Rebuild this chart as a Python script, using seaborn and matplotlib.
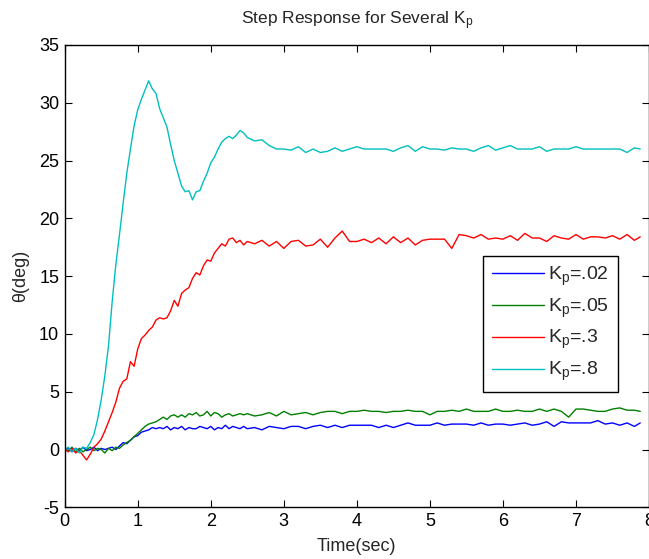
import matplotlib
matplotlib.use("Agg")
import matplotlib.pyplot as plt
import seaborn as sns
import pandas as pd

# sample times (sec)
time_s = [
    0.00, 0.05, 0.10, 0.15, 0.20, 0.25, 0.30, 0.35, 0.40, 0.45,
    0.50, 0.55, 0.60, 0.65, 0.70, 0.75, 0.80, 0.85, 0.90, 0.95,
    1.00, 1.05, 1.10, 1.15, 1.20, 1.25, 1.30, 1.35, 1.40, 1.45,
    1.50, 1.55, 1.60, 1.65, 1.70, 1.75, 1.80, 1.85, 1.90, 1.95,
    2.00, 2.05, 2.10, 2.15, 2.20, 2.25, 2.30, 2.35, 2.40, 2.45,
    2.50, 2.6, 2.7, 2.8, 2.9, 3.0, 3.1, 3.2, 3.3, 3.4,
    3.5, 3.6, 3.7, 3.8, 3.9, 4.0, 4.1, 4.2, 4.3, 4.4,
    4.5, 4.6, 4.7, 4.8, 4.9, 5.0, 5.1, 5.2, 5.3, 5.4,
    5.5, 5.6, 5.7, 5.8, 5.9, 6.0, 6.1, 6.2, 6.3, 6.4,
    6.5, 6.6, 6.7, 6.8, 6.9, 7.0, 7.1, 7.2, 7.3, 7.4,
    7.5, 7.6, 7.7, 7.8, 7.88,
]

# theta (deg) for each Kp
theta_kp02 = [
    0.0, 0.1, -0.2, 0.1, -0.1, 0.2, -0.1, 0.0, 0.2, -0.1,
    0.1, 0.0, 0.1, 0.2, 0.0, 0.3, 0.6, 0.5, 0.8, 1.1,
    1.2, 1.5, 1.6, 1.7, 1.9, 1.8, 1.9, 1.8, 2.0, 1.7,
    1.9, 1.8, 2.0, 1.7, 1.9, 1.8, 1.8, 2.0, 1.9, 1.8,
    2.0, 1.7, 1.9, 1.8, 2.1, 1.8, 2.0, 1.9, 1.8, 2.0,
    1.8, 1.9, 1.7, 2.0, 1.9, 1.8, 2.0, 2.0, 1.8, 2.0,
    2.1, 1.9, 2.1, 1.9, 2.1, 2.1, 2.1, 2.1, 1.9, 2.1,
    1.9, 2.1, 2.3, 2.1, 2.1, 2.1, 2.3, 2.1, 2.2, 2.2,
    2.2, 2.1, 2.3, 2.1, 2.2, 2.2, 2.1, 2.2, 2.3, 2.1,
    2.2, 2.4, 2.0, 2.4, 2.3, 2.3, 2.3, 2.3, 2.5, 2.2,
    2.3, 2.1, 2.3, 2.0, 2.3,
]
theta_kp05 = [
    0.0, -0.1, 0.2, -0.2, 0.1, -0.2, 0.0, 0.2, -0.1, 0.1,
    0.0, -0.3, 0.1, -0.1, 0.2, 0.1, 0.4, 0.6, 0.8, 1.1,
    1.4, 1.7, 2.0, 2.2, 2.3, 2.4, 2.6, 2.8, 2.6, 2.9,
    3.0, 2.8, 3.0, 2.8, 3.1, 3.0, 3.2, 2.9, 3.0, 3.3,
    2.9, 3.2, 3.1, 2.8, 3.0, 3.1, 2.9, 3.0, 3.1, 3.0,
    3.1, 2.9, 3.0, 3.2, 2.9, 3.3, 3.0, 3.1, 3.2, 3.0,
    3.2, 3.3, 3.3, 3.1, 3.3, 3.3, 3.4, 3.3, 3.3, 3.2,
    3.3, 3.3, 3.4, 3.3, 3.3, 3.0, 3.3, 3.3, 3.4, 3.3,
    3.5, 3.3, 3.3, 3.3, 3.5, 3.3, 3.3, 3.4, 3.3, 3.3,
    3.5, 3.3, 3.5, 3.3, 2.8, 3.5, 3.5, 3.4, 3.3, 3.3,
    3.5, 3.6, 3.4, 3.4, 3.3,
]
theta_kp3 = [
    0.0, -0.2, 0.1, -0.3, -0.1, -0.5, -0.9, -0.4, 0.2, 0.5,
    0.9, 1.6, 2.4, 3.2, 4.1, 5.3, 5.9, 6.1, 7.6, 7.2,
    8.7, 9.6, 9.9, 10.3, 10.6, 11.2, 11.4, 11.3, 11.4, 12.0,
    12.9, 12.4, 13.5, 13.8, 14.0, 14.8, 15.3, 15.1, 15.9, 16.4,
    16.3, 17.0, 17.4, 17.8, 17.6, 18.2, 18.3, 17.9, 18.1, 17.7,
    18.0, 17.8, 18.1, 17.6, 18.0, 17.4, 18.0, 18.1, 17.6, 17.7,
    18.2, 17.5, 18.3, 18.9, 18.0, 18.0, 18.2, 17.9, 18.3, 17.8,
    18.4, 17.9, 18.3, 17.7, 18.1, 18.2, 18.2, 18.2, 17.4, 18.6,
    18.5, 18.3, 18.6, 18.2, 18.3, 18.2, 18.5, 18.1, 18.7, 18.3,
    18.3, 18.0, 18.5, 18.3, 18.2, 18.6, 18.2, 18.4, 18.4, 18.3,
    18.5, 18.2, 18.6, 18.1, 18.4,
]
theta_kp8 = [
    0.0, 0.2, -0.2, 0.1, -0.3, 0.2, 0.1, 0.6, 1.3, 2.6,
    4.3, 6.4, 9.0, 12.8, 16.0, 18.6, 21.3, 23.9, 26.0, 28.0,
    29.4, 30.3, 31.1, 31.9, 31.2, 30.8, 29.5, 28.7, 27.9, 26.4,
    25.0, 23.9, 22.8, 22.3, 22.4, 21.6, 22.3, 22.4, 23.2, 23.9,
    24.8, 25.3, 26.0, 26.6, 26.9, 27.1, 26.9, 27.2, 27.6, 27.4,
    27.0, 26.7, 26.8, 26.3, 26.0, 26.0, 25.9, 26.2, 25.7, 26.0,
    25.7, 25.8, 26.1, 25.8, 26.0, 26.2, 26.0, 26.0, 26.0, 26.0,
    25.8, 26.1, 26.3, 25.8, 26.2, 26.0, 26.0, 25.9, 26.1, 26.0,
    26.0, 25.8, 26.1, 26.3, 25.9, 26.1, 26.3, 26.0, 26.0, 26.0,
    26.2, 25.8, 26.0, 26.0, 26.0, 26.2, 26.0, 26.0, 26.0, 26.0,
    26.0, 26.0, 25.7, 26.1, 26.0,
]

labels = ["K$_p$=.02", "K$_p$=.05", "K$_p$=.3", "K$_p$=.8"]
colors = ["#0000ff", "#008000", "#ff0000", "#00bfbf"]

frames = []
for lab, vals in zip(labels, [theta_kp02, theta_kp05, theta_kp3, theta_kp8]):
    frames.append(pd.DataFrame({"time": time_s, "theta": vals, "gain": lab}))
df = pd.concat(frames, ignore_index=True)

sns.set_style("ticks")
plt.rcParams["font.family"] = ["Liberation Sans", "DejaVu Sans"]
plt.rcParams["mathtext.default"] = "regular"
plt.rcParams["axes.unicode_minus"] = False

fig = plt.figure(figsize=(6.49, 5.59), dpi=100)
ax = fig.add_axes([0.0997, 0.0925, 0.9003, 0.827])

sns.lineplot(data=df, x="time", y="theta", hue="gain", palette=dict(zip(labels, colors)),
             linewidth=1.0, ax=ax, legend=False, estimator=None, sort=False)

ax.set_xlim(0, 8)
ax.set_ylim(-5, 35)
ax.set_xticks(range(0, 9))
ax.set_yticks(range(-5, 40, 5))
ax.tick_params(direction="in", length=5, width=0.8, top=True, right=True,
               labelsize=13, colors="black", pad=4)
for s in ax.spines.values():
    s.set_visible(True)
    s.set_linewidth(1.0)
    s.set_color("black")

ax.set_xlabel("Time(sec)", fontsize=13, labelpad=6)
ax.set_ylabel("θ(deg)", fontsize=13, labelpad=7)
ax.set_title("Step Response for Several K$_p$", fontsize=12.5, pad=15)

handles = [plt.Line2D([], [], color=c, linewidth=1.0) for c in colors]
leg = ax.legend(handles, labels, loc="lower right", bbox_to_anchor=(0.947, 0.249),
                fontsize=14, frameon=True, fancybox=False, framealpha=1,
                edgecolor="black", handlelength=2.7, borderpad=0.45, labelspacing=0.45,
                handletextpad=0.2, borderaxespad=0)
leg.get_frame().set_linewidth(1.0)

fig.savefig("out.png", dpi=100)
